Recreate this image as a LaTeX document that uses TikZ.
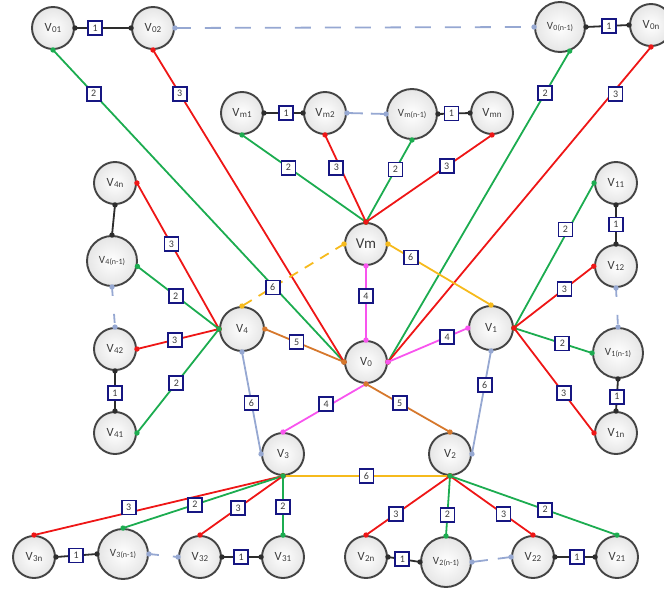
\documentclass[tikz,border=0pt]{standalone}
\usepackage{fontspec}
\setmainfont{Carlito}
\usetikzlibrary{decorations.markings}

\definecolor{cgreen}{RGB}{28,172,80}
\definecolor{cred}{RGB}{238,22,22}
\definecolor{cgold}{RGB}{246,186,28}
\definecolor{cbrown}{RGB}{214,120,44}
\definecolor{cpink}{RGB}{248,84,238}
\definecolor{cblue}{RGB}{150,168,210}
\definecolor{cdark}{RGB}{45,45,45}
\definecolor{cnavy}{RGB}{22,22,130}
\definecolor{cedge}{RGB}{68,68,68}
\definecolor{ctext}{RGB}{60,60,60}

% vertex label: V with a small index
\newcommand{\vt}[1]{V\kern0.3pt\raisebox{-0.8pt}{\fontsize{9}{9}\selectfont #1}}
\newcommand{\vtb}[1]{{\fontsize{11}{11}\selectfont V\kern0.3pt\raisebox{-0.8pt}{\fontsize{8}{8}\selectfont #1}}}

\tikzset{
  vtx/.style={circle, draw=cedge, line width=1.9pt, minimum size=42pt,
    inner sep=0pt, inner color=white, outer color=black!10, text=ctext,
    font=\fontsize{12.5}{12.5}\selectfont},
  vbig/.style={vtx, minimum size=50pt},
  vmid/.style={vtx, minimum size=44pt},
  lab/.style={draw=cnavy, solid, line width=1.8pt, fill=white, minimum size=14pt,
    inner sep=0pt, text=ctext, font=\fontsize{10}{10}\selectfont},
  % a link with a round dot at each end
  link/.style={line width=1.8pt, postaction={decorate, decoration={markings,
    mark=at position 0 with {\fill circle (2.7pt);},
    mark=at position 1 with {\fill circle (2.7pt);}}}},
  e1/.style={link, cdark},
  e2/.style={link, cgreen},
  e3/.style={link, cred},
  e4/.style={link, cpink},
  e5/.style={link, cbrown},
  e6/.style={link, cgold},
  eb/.style={link, cblue},
  gap/.style={link, cblue, dash pattern=on 15pt off 10pt},
}

\begin{document}
\begin{tikzpicture}[x=1pt,y=-1pt]
\useasboundingbox (0,0) rectangle (664,589);

% ---- vertices ----
\node[vtx]  (v01)  at (53,28)   {\vt{01}};
\node[vtx]  (v02)  at (153,28)  {\vt{02}};
\node[vbig] (v0n1) at (560,27)  {\vtb{0(n-1)}};
\node[vtx]  (v0n)  at (651,25)  {\vt{0n}};

\node[vtx]  (vm1)  at (242,113) {\vt{m1}};
\node[vtx]  (vm2)  at (325,113) {\vt{m2}};
\node[vbig] (vmn1) at (412,114) {\vtb{m(n-1)}};
\node[vtx]  (vmn)  at (492,113) {\vt{mn}};

\node[vtx]  (Vm)   at (366,244) {{\fontsize{15}{15}\selectfont Vm}};
\node[vmid] (V4)   at (242,329) {\vt{4}};
\node[vtx]  (V0)   at (366,362) {\vt{0}};
\node[vmid] (V1)   at (491,328) {\vt{1}};
\node[vtx]  (V3)   at (283,454) {\vt{3}};
\node[vtx]  (V2)   at (450,454) {\vt{2}};

\node[vtx]  (v4n)  at (115,183) {\vt{4n}};
\node[vbig] (v4n1) at (112,261) {\vtb{4(n-1)}};
\node[vtx]  (v42)  at (115,349) {\vt{42}};
\node[vtx]  (v41)  at (115,433) {\vt{41}};

\node[vtx]  (v11)  at (616,183) {\vt{11}};
\node[vtx]  (v12)  at (616,266) {\vt{12}};
\node[vbig] (v1n1) at (618,353) {\vtb{1(n-1)}};
\node[vtx]  (v1n)  at (616,433) {\vt{1n}};

\node[vtx]  (v3n)  at (34,557)  {\vt{3n}};
\node[vbig] (v3n1) at (123,554) {\vtb{3(n-1)}};
\node[vtx]  (v32)  at (200,557) {\vt{32}};
\node[vtx]  (v31)  at (283,557) {\vt{31}};

\node[vtx]  (v2n)  at (366,557) {\vt{2n}};
\node[vbig] (v2n1) at (446,562) {\vtb{2(n-1)}};
\node[vtx]  (v22)  at (533,557) {\vt{22}};
\node[vtx]  (v21)  at (617,557) {\vt{21}};

% ---- long links from the top row to V0 ----
\draw[e2] (v01.south) -- node[lab, pos=0.14] (a1) {2} (V0.west);
\draw[e3] (v02.south) -- node[lab, pos=0.14] (a2) {3} (V0.west);
\draw[e2] (v0n1.-68)  -- node[lab, pos=0.135] (a3) {2} (V0.east);
\draw[e3] (v0n.south) -- node[lab, pos=0.15, xshift=4pt] (a4) {3} (V0.east);

% ---- top row ----
\draw[e1] (v01.east) -- node[lab, pos=0.36] (t1) {1} (v02.west);
\draw[gap, dash pattern=on 16pt off 14pt] (v02.east) -- (v0n1.west);
\draw[e1] (v0n1.east) -- node[lab, pos=0.53] (t2) {1} (v0n.west);

% ---- middle row and its fan into Vm ----
\draw[e1] (vm1.east) -- node[lab, pos=0.57] (m1) {1} (vm2.west);
\draw[gap, dash pattern=on 16pt off 8pt] (vm2.east) -- (vmn1.west);
\draw[e1] (vmn1.east) -- node[lab, pos=0.42] (m2) {1} (vmn.west);
\draw[e2] (vm1.south)  -- node[lab, pos=0.375] (m3) {2} (Vm.north);
\draw[e3] (vm2.south)  -- node[lab, pos=0.375, xshift=-4pt] (m4) {3} (Vm.north);
\draw[e2] (vmn1.south) -- node[lab, pos=0.36] (m5) {2} (Vm.north);
\draw[e3] (vmn.south)  -- node[lab, pos=0.36] (m6) {3} (Vm.north);

% ---- core ----
\draw[e6, dash pattern=on 10pt off 8pt] (Vm.west) -- node[lab, pos=0.7] (c1) {6} (V4.north);
\draw[e6] (Vm.east)  -- node[lab, pos=0.22] (c2) {6} (V1.north);
\draw[e4] (Vm.south) -- node[lab, pos=0.41] (c3) {4} (V0.north);
\draw[e5] (V4.east)  -- node[lab, pos=0.4]  (c4) {5} (V0.west);
\draw[e4] (V0.east)  -- node[lab, pos=0.74] (c5) {4} (V1.west);
\draw[e4] (V0.south) -- node[lab, pos=0.42, xshift=-5pt] (c6) {4} (V3.north);
\draw[e5] (V0.south) -- node[lab, pos=0.4]  (c7) {5} (V2.north);
\draw[eb] (V4.south) -- node[lab, pos=0.5]  (c8) {6} (V3.west);
\draw[eb] (V1.south) -- node[lab, pos=0.33] (c9) {6} (V2.east);
\draw[e6] (V3.south) -- node[lab, pos=0.5]  (c10) {6} (V2.south);

% ---- left column ----
\draw[e3] (v4n.east)   -- node[lab, pos=0.42] (l1) {3} (V4.west);
\draw[e2] (v4n1.-12)   -- node[lab, pos=0.47] (l2) {2} (V4.west);
\draw[e3] (v42.east)   -- node[lab, pos=0.46] (l3) {3} (V4.west);
\draw[e2] (v41.east)   -- node[lab, pos=0.48] (l4) {2} (V4.west);
\draw[e1] (v4n.south)  -- (v4n1.north);
\draw[gap, dash pattern=on 9pt off 18pt] (v4n1.south) -- (v42.north);
\draw[e1] (v42.south)  -- node[lab, pos=0.55] (l5) {1} (v41.north);

% ---- right column ----
\draw[e2] (V1.east) -- node[lab, pos=0.68, xshift=-3pt] (r1) {2} (v11.west);
\draw[e3] (V1.east) -- node[lab, pos=0.63] (r2) {3} (v12.west);
\draw[e2] (V1.east) -- node[lab, pos=0.62] (r3) {2} (v1n1.west);
\draw[e3] (V1.east) -- node[lab, pos=0.62] (r4) {3} (v1n.west);
\draw[e1] (v11.south)  -- node[lab, pos=0.5]  (r5) {1} (v12.north);
\draw[gap, dash pattern=on 9pt off 18pt] (v12.south) -- (v1n1.north);
\draw[e1] (v1n1.south) -- node[lab, pos=0.55] (r6) {1} (v1n.north);

% ---- bottom left ----
\draw[e3] (V3.south) -- node[lab, pos=0.62, yshift=5pt] (b1) {3} (v3n.north);
\draw[e2] (V3.south) -- node[lab, pos=0.55] (b2) {2} (v3n1.north);
\draw[e3] (V3.south) -- node[lab, pos=0.54] (b3) {3} (v32.north);
\draw[e2] (V3.south) -- node[lab, pos=0.52] (b4) {2} (v31.north);
\draw[e1] (v3n.east)  -- node[lab, pos=0.49] (b5) {1} (v3n1.west);
\draw[gap, dash pattern=on 10pt off 14pt] (v3n1.east) -- (v32.west);
\draw[e1] (v32.east)  -- node[lab, pos=0.49] (b6) {1} (v31.west);

% ---- bottom right ----
\draw[e3] (V2.south) -- node[lab, pos=0.645] (d1) {3} (v2n.north);
\draw[e2] (V2.south) -- node[lab, pos=0.645] (d2) {2} (v2n1.north);
\draw[e3] (V2.south) -- node[lab, pos=0.645] (d3) {3} (v22.north);
\draw[e2] (V2.south) -- node[lab, pos=0.57]  (d4) {2} (v21.north);
\draw[e1] (v2n.east)  -- node[lab, pos=0.45] (d5) {1} (v2n1.west);
\draw[gap, dash pattern=on 16pt off 10pt] (v2n1.east) -- (v22.west);
\draw[e1] (v22.east)  -- node[lab, pos=0.55] (d6) {1} (v21.west);
\end{tikzpicture}
\end{document}
